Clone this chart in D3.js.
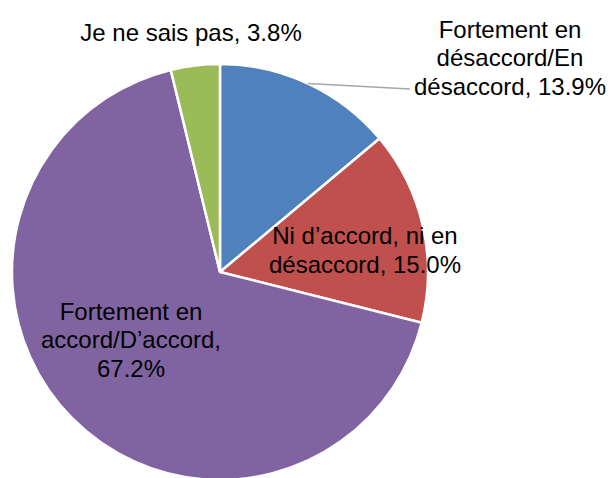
<!DOCTYPE html>
<html>
<head>
<meta charset="utf-8">
<script src="https://cdn.jsdelivr.net/npm/d3@7"></script>
<style>
  html, body { margin: 0; padding: 0; background: #fff; }
  text { font-family: "Liberation Sans", Arial, Helvetica, sans-serif; }
</style>
</head>
<body>
<div id="chart"></div>
<script>
// Data
const categories = [
  'Fortement en désaccord/En désaccord',
  'Ni d’accord, ni en désaccord',
  'Fortement en accord/D’accord',
  'Je ne sais pas'
];
const values = [13.9, 15.0, 67.2, 3.8];
const labelLines = [
  ['Fortement en', 'désaccord/En', 'désaccord, 13.9%'],
  ['Ni d’accord, ni en', 'désaccord, 15.0%'],
  ['Fortement en', 'accord/D’accord,', '67.2%'],
  ['Je ne sais pas, 3.8%']
];
const colors = ['#4F81BD', '#C0504D', '#8064A2', '#9BBB59'];

function initPieChart() {
  const width = 611;
  const height = 478;
  const cx = 220, cy = 272, radius = 208;

  // label centres (layout only)
  const labelPos = [
    { x: 510, y: 58 },
    { x: 365, y: 250 },
    { x: 131, y: 340 },
    { x: 191, y: 33 }
  ];
  const lineHeight = 28.5;

  const svg = d3.select('#chart')
    .append('svg')
    .attr('width', width)
    .attr('height', height);

  const g = svg.append('g')
    .attr('transform', `translate(${cx},${cy})`);

  const data = categories.map((c, i) => ({ name: c, value: values[i], i }));

  const pie = d3.pie()
    .value(d => d.value)
    .sort(null);

  const arc = d3.arc()
    .innerRadius(0)
    .outerRadius(radius);

  const arcs = pie(data);

  g.selectAll('path.slice')
    .data(arcs)
    .enter().append('path')
    .attr('class', 'slice')
    .attr('d', arc)
    .attr('fill', d => colors[d.data.i])
    .attr('stroke', '#fff')
    .attr('stroke-width', 2.5)
    .attr('stroke-linejoin', 'round');

  // Leader line for the first slice
  const first = arcs[0];
  const mid = (first.startAngle + first.endAngle) / 2;
  const sx = Math.sin(mid) * radius;
  const sy = -Math.cos(mid) * radius;
  g.append('line')
    .attr('x1', sx)
    .attr('y1', sy)
    .attr('x2', 410 - cx)
    .attr('y2', 89 - cy)
    .attr('stroke', '#A6A6A6')
    .attr('stroke-width', 1.5);

  // Labels
  labelLines.forEach((lines, i) => {
    const p = labelPos[i];
    const t = svg.append('text')
      .attr('text-anchor', 'middle')
      .style('font-size', '24px')
      .style('fill', '#000');
    const y0 = p.y - (lines.length - 1) * lineHeight / 2;
    lines.forEach((ln, j) => {
      t.append('tspan')
        .attr('x', p.x)
        .attr('y', y0 + j * lineHeight)
        .attr('dy', '0.35em')
        .text(ln);
    });
  });
}

initPieChart();
</script>
</body>
</html>
